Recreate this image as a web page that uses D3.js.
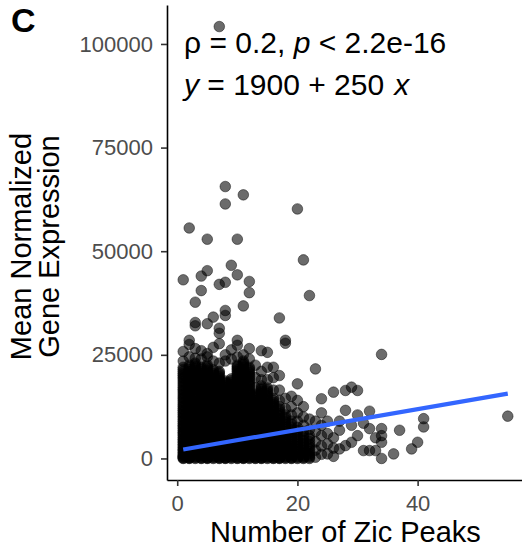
<!DOCTYPE html>
<html>
<head>
<meta charset="utf-8">
<script src="https://cdn.jsdelivr.net/npm/d3@7"></script>
<style>
  body { margin: 0; background: #fff; }
  text { font-family: "Liberation Sans", Arial, Helvetica, sans-serif; }
</style>
</head>
<body>
<svg id="chart" width="522" height="560"></svg>
<script>
// values, expression in thousands
// dense core: [zic peaks, [mean expression (k) ...]]
var denseCols = [
  [1, [0,0.3,0.8,1.5,2.2,3,3.8,4.6,5.5,6.3,7.2,8,8.9,9.8,10.7,11.6,12.5,13.4,14.4,15.3,16.3,17.2,18.2,19.2,20.1,21,22]],
  [2, [0,0.2,0.6,1.2,1.9,2.7,3.5,4.3,5.2,6,6.9,7.7,8.6,9.5,10.4,11.3,12.2,13.1,14,15,15.9,16.9,17.8,18.8,19.7,20.6,21.5,22.5]],
  [3, [0,0.4,1,1.7,2.4,3.2,4,4.9,5.7,6.6,7.4,8.3,9.2,10.1,11,11.9,12.8,13.7,14.7,15.6,16.6,17.5,18.5,19.5,20.4,21.3,22.2,23]],
  [4, [0,0.3,0.9,1.6,2.3,3.1,3.9,4.7,5.6,6.4,7.3,8.1,9,9.9,10.8,11.7,12.6,13.5,14.5,15.4,16.4,17.3,18.3,19.2,20.2,21.1,22]],
  [5, [0,0.2,0.7,1.4,2.1,2.9,3.7,4.5,5.4,6.2,7.1,7.9,8.8,9.7,10.6,11.5,12.4,13.3,14.3,15.2,16.2,17.1,18.1,19,20,20.9,21.8,22.6]],
  [6, [0,0.4,1,1.7,2.5,3.3,4.1,5,5.8,6.7,7.5,8.4,9.3,10.2,11.1,12,12.9,13.9,14.8,15.8,16.7,17.7,18.6,19.6,20.5,21.4]],
  [7, [0,0.3,0.8,1.5,2.2,3,3.8,4.7,5.5,6.4,7.2,8.1,9,9.9,10.8,11.7,12.6,13.6,14.5,15.5,16.4,17.4,18.3,19.3,20.2,21]],
  [8, [0,0.2,0.7,1.3,2,2.8,3.6,4.4,5.3,6.1,7,7.8,8.7,9.6,10.5,11.4,12.3,13.3,14.2,15.2,16.1,17.1,18,18.7]],
  [9, [0,0.4,0.9,1.6,2.3,3.1,3.9,4.8,5.6,6.5,7.3,8.2,9.1,10,10.9,11.8,12.7,13.7,14.6,15.6,16.5,17.5,18.4,19.2]],
  [10, [0,0.3,0.8,1.4,2.1,2.9,3.7,4.6,5.4,6.3,7.1,8,8.9,9.8,10.7,11.6,12.5,13.4,14.4,15.3,16.3,17.2,18.2,19.1,20.1,21,21.8,22.5]],
  [11, [0,0.2,0.7,1.4,2.2,3,3.8,4.6,5.5,6.3,7.2,8,8.9,9.8,10.7,11.6,12.5,13.5,14.4,15.4,16.3,17.3,18.2,19.2,20.1,21,21.9,22.7,23.5]],
  [12, [0,0.4,1,1.7,2.4,3.2,4,4.8,5.7,6.5,7.4,8.2,9.1,10,10.9,11.8,12.7,13.7,14.6,15.6,16.5,17.5,18.4,19.4,20.3,21.2,22]],
  [13, [0,0.3,0.8,1.5,2.3,3.1,3.9,4.8,5.6,6.5,7.4,8.3,9.2,10.1,11.1,12,13,13.9,14.8,15.5]],
  [14, [0,0.2,0.7,1.4,2.2,3,3.8,4.7,5.5,6.4,7.3,8.2,9.1,10,11,11.9,12.9,13.8,14.8,15.7,16.6,17.5]],
  [15, [0,0.4,0.9,1.6,2.4,3.2,4,4.9,5.8,6.7,7.6,8.5,9.4,10.3,11.3,12.2,13.2,14.1,15.1,16.1,17]],
  [16, [0,0.3,0.8,1.5,2.3,3.1,4,4.9,5.8,6.7,7.7,8.6,9.6,10.5,11.5,12.5,13.5,14.5]],
  [17, [0,0.2,0.8,1.6,2.5,3.4,4.3,5.3,6.2,7.2,8.2,9.2,10.3,11.4,12.5]],
  [18, [0,0.4,1.1,1.9,2.8,3.8,4.8,5.9,7,8.2,9.4,10.5]],
  [19, [0,0.3,1,1.9,2.9,4,5.1,6.3,7.6,9]],
  [20, [0,0.5,1.3,2.3,3.4,4.6,5.9,7.5]],
  [21, [0,0.4,1.3,2.4,3.6,5,6.5]],
  [22, [0,0.6,1.6,2.8,4.1,5.5]]
];

// more genes sitting inside the same core, between the ones above
var denseCols2 = [
  [1, [0.1,0.5,1.1,1.9,2.6,3.4,4.2,5,5.9,6.7,7.6,8.4,9.3,10.2,11.1,12,12.9,13.9,14.8,15.8,16.7,17.7,18.7,19.6,20.5,21.5]],
  [2, [0.1,0.4,0.9,1.6,2.3,3.1,3.9,4.7,5.6,6.4,7.3,8.1,9,9.9,10.8,11.7,12.6,13.6,14.5,15.4,16.4,17.3,18.3,19.2,20.1,21,22]],
  [3, [0.2,0.7,1.3,2,2.8,3.6,4.4,5.3,6.1,7,7.8,8.7,9.6,10.5,11.4,12.3,13.2,14.2,15.1,16.1,17,18,19,19.9,20.8,21.7,22.6]],
  [4, [0.1,0.6,1.2,1.9,2.7,3.5,4.3,5.1,6,6.8,7.7,8.5,9.4,10.3,11.2,12.1,13,14,14.9,15.9,16.8,17.8,18.7,19.7,20.6,21.5]],
  [5, [0.1,0.4,1,1.7,2.5,3.3,4.1,4.9,5.8,6.6,7.5,8.3,9.2,10.1,11,11.9,12.8,13.8,14.7,15.7,16.6,17.6,18.5,19.5,20.4,21.3,22.2]],
  [6, [0.2,0.7,1.3,2.1,2.9,3.7,4.5,5.4,6.2,7.1,7.9,8.8,9.7,10.6,11.5,12.4,13.4,14.3,15.3,16.2,17.2,18.1,19.1,20,20.9]],
  [7, [0.1,0.5,1.1,1.8,2.6,3.4,4.2,5.1,5.9,6.8,7.6,8.5,9.4,10.3,11.2,12.1,13.1,14,15,15.9,16.9,17.8,18.8,19.7,20.6]],
  [8, [0.1,0.4,1,1.6,2.4,3.2,4,4.8,5.7,6.5,7.4,8.2,9.1,10,10.9,11.9,12.8,13.8,14.7,15.7,16.6,17.5,18.3]],
  [9, [0.2,0.6,1.2,1.9,2.7,3.5,4.3,5.2,6,6.9,7.7,8.6,9.5,10.4,11.3,12.2,13.2,14.1,15.1,16,17,17.9,18.8]],
  [10, [0.1,0.5,1.1,1.7,2.5,3.3,4.1,5,5.8,6.7,7.5,8.4,9.3,10.2,11.1,12,12.9,13.9,14.8,15.8,16.7,17.7,18.6,19.6,20.5,21.4,22.1]],
  [11, [0.1,0.4,1,1.8,2.6,3.4,4.2,5,5.9,6.7,7.6,8.4,9.3,10.2,11.1,12,13,13.9,14.9,15.8,16.8,17.7,18.7,19.6,20.5,21.4,22.3,23.1]],
  [12, [0.2,0.7,1.3,2,2.8,3.6,4.4,5.2,6.1,6.9,7.8,8.6,9.5,10.4,11.3,12.2,13.2,14.1,15.1,16,17,17.9,18.9,19.8,20.7,21.6]],
  [13, [0.1,0.5,1.1,1.9,2.7,3.5,4.3,5.2,6,6.9,7.8,8.7,9.6,10.6,11.5,12.5,13.4,14.3,15.1]],
  [14, [0.1,0.4,1,1.8,2.6,3.4,4.2,5.1,5.9,6.8,7.7,8.6,9.5,10.5,11.4,12.4,13.3,14.3,15.2,16.1,17]],
  [15, [0.2,0.6,1.2,2,2.8,3.6,4.4,5.3,6.2,7.1,8,8.9,9.8,10.8,11.7,12.7,13.6,14.6,15.6,16.5]],
  [16, [0.1,0.5,1.1,1.9,2.7,3.5,4.4,5.3,6.2,7.2,8.1,9.1,10,11,12,13,14]],
  [17, [0.1,0.5,1.2,2,2.9,3.8,4.8,5.7,6.7,7.7,8.7,9.7,10.8,11.9]],
  [18, [0.2,0.7,1.5,2.3,3.3,4.3,5.3,6.4,7.6,8.8,9.9]],
  [19, [0.1,0.6,1.4,2.4,3.4,4.5,5.7,6.9,8.3]],
  [20, [0.2,0.9,1.8,2.8,4,5.2,6.7]],
  [21, [0.2,0.8,1.8,3,4.3,5.7]],
  [22, [0.3,1.1,2.2,3.4,4.8]]
];

// scattered points around and above the core: [zic peaks, expression (k)]
var sparsePts = [
  [1,23.5],[1,25.8],[1,43.1],
  [2,24.5],[2,27.5],[2,28.5],[2,55.6],
  [3,24.2],[3,26.5],[3,32],[3,32.8],[3,37.7],
  [4,24],[4,26],[4,40.5],[4,44],
  [5,24.5],[5,25.3],[5,32.5],[5,45.3],[5,52.9],
  [6,23.5],[6,26.8],[6,34.1],
  [7,23],[7,27.7],[7,30.2],[7,31.4],[7,42],[7,104.2],
  [8,23.5],[8,25],[8,34.5],[8,35.7],[8,42.5],[8,61.4],[8,65.6],
  [9,24],[9,26.2],[9,46.6],
  [10,24.5],[10,27.3],[10,28.5],[10,44.3],[10,52.9],
  [11,25],[11,36.8],[11,63.6],
  [12,24],[12,26.5],[12,40],[12,42.7],
  [13,17],[13,19.5],[13,22.5],
  [14,19],[14,21],[14,26],
  [15,19],[15,22],[15,25.6],
  [16,16.5],[16,19.5],[16,22],
  [17,14],[17,16.5],[17,20],[17,33.9],
  [18,12],[18,14.5],[18,27.8],[18,28.5],
  [19,10.5],[19,12.5],[19,15],
  [20,9],[20,11],[20,14],[20,18],[20,60.2],
  [21,8],[21,10],[21,12.5],[21,47.9],
  [22,7],[22,9.5],[22,39.3],
  [23,0.3],[23,2],[23,4],[23,6.5],[23,9],[23,21.6],
  [24,1],[24,3],[24,5.5],[24,8],[24,11],[24,14.4],
  [25,1.1],[25,3.5],[25,6],[25,9],
  [26,0.5],[26,2.5],[26,5],[26,16],
  [27,2.3],[27,6.8],[27,9],
  [28,3.1],[28,11.6],[28,16.4],
  [29,3.9],[29,8],[29,17.2],
  [30,5.5],[30,10.5],[30,16.4],
  [31,1.9],[31,8.5],
  [32,1.9],[32,7.2],[32,11.4],
  [33,1.9],[33,5],
  [34,0],[34,3.9],[34,5.5],[34,7.2],[34,25.1],
  [36,1.1],[37,6.8],[39,2.3],[40,3.9],
  [41,7.6],[41,9.6],[55,10.2]
];

var fitIntercept = 1900;
var fitSlope = 250;
var xTicks = [0, 20, 40];
var yTicks = [0, 25000, 50000, 75000, 100000];
var xTitle = "Number of Zic Peaks";
var yTitle = ["Mean Normalized", "Gene Expression"];
var panelTag = "C";

var points = [];
denseCols.concat(denseCols2).forEach(function (col) {
  col[1].forEach(function (v) { points.push({x: col[0], y: v * 1000}); });
});
sparsePts.forEach(function (p) { points.push({x: p[0], y: p[1] * 1000}); });

var svg = d3.select("#chart");
var pLeft = 167, pRight = 524, pTop = 5, pBottom = 480;

var x = d3.scaleLinear().domain([-1.7, 57.7]).range([pLeft, pRight]);
var y = d3.scaleLinear().domain([-5200, 109400]).range([pBottom, pTop]);

svg.append("g")
  .selectAll("circle")
  .data(points)
  .enter().append("circle")
    .attr("cx", function (d) { return x(d.x); })
    .attr("cy", function (d) { return y(d.y); })
    .attr("r", 5.3)
    .attr("fill", "#000")
    .attr("fill-opacity", 0.58)
    .attr("stroke", "#000")
    .attr("stroke-opacity", 0.45)
    .attr("stroke-width", 1);

// linear fit over the range of x in the data
var xExt = d3.extent(points, function (d) { return d.x; });
svg.append("path")
  .datum(xExt)
  .attr("fill", "none")
  .attr("stroke", "#3366FF")
  .attr("stroke-width", 4.2)
  .attr("d", d3.line()
    .x(function (d) { return x(d); })
    .y(function (d) { return y(fitIntercept + fitSlope * d); }));

var yAxis = svg.append("g")
  .attr("transform", "translate(" + pLeft + ",0)")
  .call(d3.axisLeft(y).tickValues(yTicks).tickFormat(d3.format("d")).tickSize(6).tickSizeOuter(0).tickPadding(8));

var xAxis = svg.append("g")
  .attr("transform", "translate(0," + pBottom + ")")
  .call(d3.axisBottom(x).tickValues(xTicks).tickSize(6).tickSizeOuter(0).tickPadding(9));

[xAxis, yAxis].forEach(function (ax) {
  ax.select(".domain").attr("stroke", "#000").attr("stroke-width", 1.6);
  ax.selectAll(".tick line").attr("stroke", "#333").attr("stroke-width", 1.6);
  ax.selectAll(".tick text")
    .attr("fill", "#4D4D4D")
    .style("font-size", "22px")
    .style("font-family", "'Liberation Sans', Arial, Helvetica, sans-serif");
});

svg.append("text")
  .attr("x", (pLeft + pRight) / 2)
  .attr("y", 542)
  .attr("text-anchor", "middle")
  .style("font-size", "29px")
  .text(xTitle);

svg.append("g")
  .attr("transform", "translate(31," + ((pTop + pBottom) / 2 + 4) + ") rotate(-90)")
  .selectAll("text")
  .data(yTitle)
  .enter().append("text")
    .attr("x", 0)
    .attr("y", function (d, i) { return i * 28; })
    .attr("text-anchor", "middle")
    .style("font-size", "29px")
    .text(function (d) { return d; });

svg.append("text")
  .attr("x", 11)
  .attr("y", 32)
  .style("font-size", "34px")
  .style("font-weight", "bold")
  .text(panelTag);

// correlation and fit annotation
var ann = svg.append("g").style("font-size", "30px");
var l1 = ann.append("text").attr("x", 184).attr("y", 53);
l1.append("tspan").text("\u03c1 = 0.2, ");
l1.append("tspan").style("font-style", "italic").text("p");
l1.append("tspan").text(" < 2.2e-16");
var l2 = ann.append("text").attr("x", 184).attr("y", 95);
l2.append("tspan").style("font-style", "italic").text("y");
l2.append("tspan").text(" = 1900 + 250");
l2.append("tspan").attr("dx", 10).style("font-style", "italic").text("x");
</script>
</body>
</html>
